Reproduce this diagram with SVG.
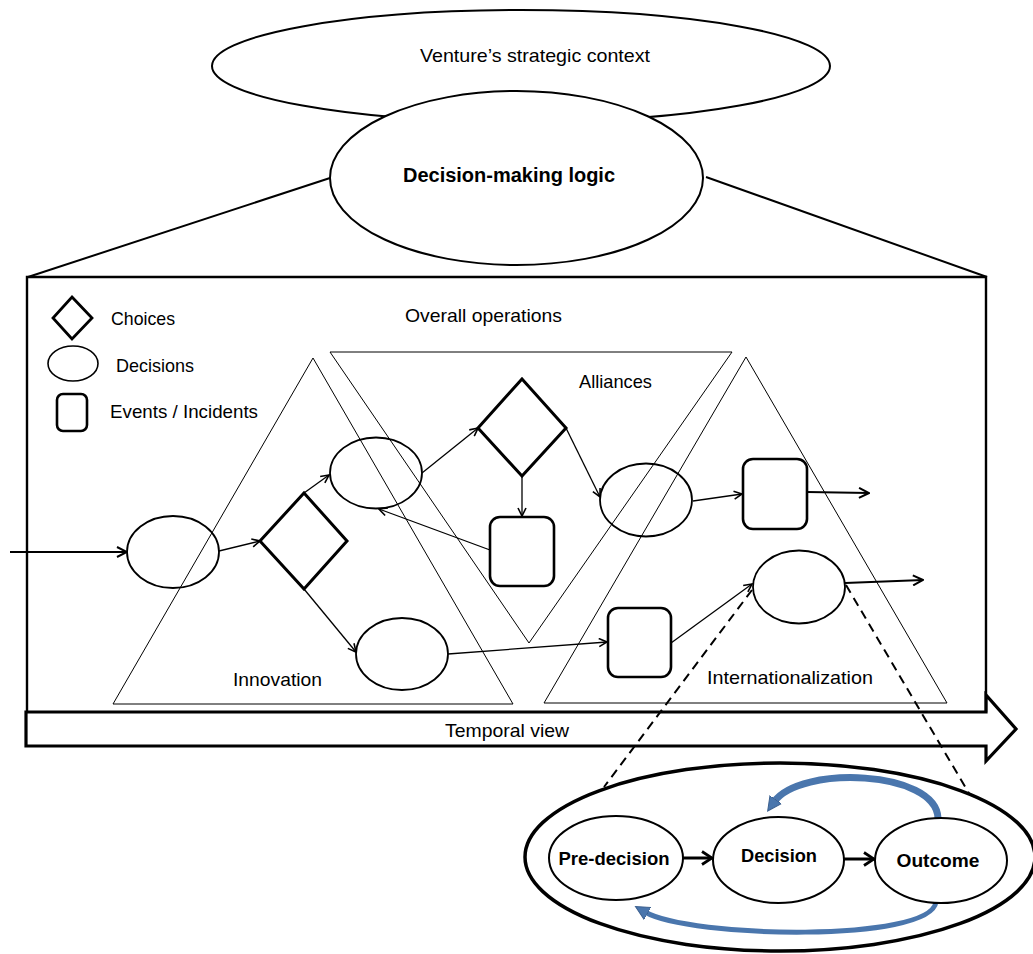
<svg xmlns="http://www.w3.org/2000/svg" width="1033" height="954" viewBox="0 0 1033 954">
  <style>
    text { font-family: "Liberation Sans", Arial, sans-serif; fill: #000; }
    .lbl { font-size: 19px; }
    .bold { font-weight: bold; }
    .tri { fill: none; stroke: #000; stroke-width: 1; }
    .dec { fill: none; stroke: #000; stroke-width: 1.8; }
    .cho { fill: none; stroke: #000; stroke-width: 3; stroke-linejoin: miter; }
    .evt { fill: none; stroke: #000; stroke-width: 2.6; }
    .flow { fill: none; stroke: #000; stroke-width: 1.3; marker-end: url(#arr); }
    .flowOut { fill: none; stroke: #000; stroke-width: 2; marker-end: url(#arrMid); }
    .dash { fill: none; stroke: #000; stroke-width: 2; stroke-dasharray: 9 6; }
    .stage { fill: #fff; stroke: #000; stroke-width: 2; }
    .step { fill: none; stroke: #000; stroke-width: 3; marker-end: url(#arrBig); }
    .loop { fill: none; stroke: #4a76ad; stroke-linecap: butt; }
  </style>
  <defs>
    <marker id="arr" viewBox="0 0 10 10" refX="9" refY="5" markerWidth="10" markerHeight="10" markerUnits="userSpaceOnUse" orient="auto">
      <path d="M1,1 L9,5 L1,9" fill="none" stroke="#000" stroke-width="1.6"/>
    </marker>
    <marker id="arrMid" viewBox="0 0 12 12" refX="11" refY="6" markerWidth="12" markerHeight="12" markerUnits="userSpaceOnUse" orient="auto">
      <path d="M1,1 L11,6 L1,11" fill="none" stroke="#000" stroke-width="2"/>
    </marker>
    <marker id="arrBig" viewBox="0 0 14 16" refX="12" refY="8" markerWidth="14" markerHeight="16" markerUnits="userSpaceOnUse" orient="auto">
      <path d="M2,1.5 L12,8 L2,14.5" fill="none" stroke="#000" stroke-width="2.8"/>
    </marker>
    <marker id="blueHead" viewBox="0 0 16 16" refX="3" refY="8" markerWidth="16" markerHeight="16" markerUnits="userSpaceOnUse" orient="auto">
      <path d="M0,1 L14,8 L0,15 Z" fill="#4a76ad" stroke="#3b5f8e" stroke-width="1"/>
    </marker>
  </defs>

  <!-- strategic context and decision-making logic -->
  <g id="context">
    <ellipse cx="521" cy="66" rx="309" ry="56" fill="#fff" stroke="#000" stroke-width="2"/>
    <text class="lbl" x="420" y="62" font-size="20" textLength="230" lengthAdjust="spacingAndGlyphs">Venture’s strategic context</text>
  </g>
  <g id="logic-fan">
    <line x1="330" y1="178" x2="28" y2="277" stroke="#000" stroke-width="2"/>
    <line x1="706" y1="177" x2="987" y2="277" stroke="#000" stroke-width="2"/>
  </g>
  <g id="logic">
    <ellipse cx="516.5" cy="178" rx="186.5" ry="87" fill="#fff" stroke="#000" stroke-width="2"/>
    <text class="bold" x="509" y="182" font-size="20" text-anchor="middle" textLength="212" lengthAdjust="spacingAndGlyphs">Decision-making logic</text>
  </g>

  <!-- operations frame and time axis -->
  <g id="timeline">
    <path d="M26,712 L986,712 L986,695 L1016,729 L986,761 L986,746 L26,746 Z" fill="#fff" stroke="#000" stroke-width="3.2" stroke-linejoin="miter"/>
    <text class="lbl" x="507" y="737" text-anchor="middle" textLength="124" lengthAdjust="spacingAndGlyphs">Temporal view</text>
  </g>
  <g id="operations">
    <path d="M27,712 L27,277 L986,277 L986,712" fill="none" stroke="#000" stroke-width="2.4"/>
    <text class="lbl" x="405" y="322" textLength="157" lengthAdjust="spacingAndGlyphs">Overall operations</text>
  </g>

  <!-- legend -->
  <g id="legend">
    <polygon points="72,297 92,318 72,339 53,318" fill="none" stroke="#000" stroke-width="2.8"/>
    <text class="lbl" x="111" y="325" font-size="18" textLength="64" lengthAdjust="spacingAndGlyphs">Choices</text>
    <ellipse cx="73" cy="363.5" rx="25" ry="17.5" fill="none" stroke="#000" stroke-width="1.6"/>
    <text class="lbl" x="116" y="372" font-size="18" textLength="78" lengthAdjust="spacingAndGlyphs">Decisions</text>
    <rect x="57" y="394" width="30" height="37" rx="6" fill="none" stroke="#000" stroke-width="2.6"/>
    <text class="lbl" x="110" y="418" font-size="18" textLength="148" lengthAdjust="spacingAndGlyphs">Events / Incidents</text>
  </g>

  <!-- activity domains -->
  <g id="innovation">
    <polygon class="tri" points="313,358 113,704 513,704"/>
    <text class="lbl" x="233" y="686" textLength="89" lengthAdjust="spacingAndGlyphs">Innovation</text>
  </g>
  <g id="alliances">
    <polygon class="tri" points="330,352 732,352 529,643"/>
    <text class="lbl" x="579" y="388" textLength="73" lengthAdjust="spacingAndGlyphs">Alliances</text>
  </g>
  <g id="internationalization">
    <polygon class="tri" points="746,357 544,703 947,703"/>
    <text class="lbl" x="707" y="684" textLength="166" lengthAdjust="spacingAndGlyphs">Internationalization</text>
  </g>

  <!-- process nodes -->
  <g id="decision-1"><ellipse class="dec" cx="173" cy="552" rx="46" ry="36"/></g>
  <g id="choice-1"><polygon class="cho" points="304,493 347,541 304,589 260,541"/></g>
  <g id="decision-2"><ellipse class="dec" cx="376" cy="473" rx="46" ry="35.5"/></g>
  <g id="decision-3"><ellipse class="dec" cx="402" cy="654" rx="46" ry="36"/></g>
  <g id="choice-2"><polygon class="cho" points="522,379 566,428 522,476 478,428"/></g>
  <g id="event-2"><rect class="evt" x="490" y="517" width="64" height="69" rx="10"/></g>
  <g id="decision-4"><ellipse class="dec" cx="646" cy="500" rx="46" ry="36.5"/></g>
  <g id="event-1"><rect class="evt" x="743" y="459" width="64" height="70" rx="10"/></g>
  <g id="event-3"><rect class="evt" x="608" y="608" width="63" height="69" rx="10"/></g>
  <g id="decision-5"><ellipse class="dec" cx="799" cy="587" rx="46" ry="36.5"/></g>

  <!-- connectors -->
  <g id="connectors">
    <path class="flowOut" d="M10,552 L127,552"/>
    <path class="flow" d="M219,551 L260,541"/>
    <path class="flow" d="M304,493 L329,475"/>
    <path class="flow" d="M304,589 L356,652"/>
    <path class="flow" d="M422,473 L478,428"/>
    <path class="flow" d="M522,476 L522,516"/>
    <path class="flow" d="M490,550 L379,509"/>
    <path class="flow" d="M566,428 L600,497"/>
    <path class="flow" d="M693,501 L742,494"/>
    <path class="flowOut" d="M807,492 L869,493"/>
    <path class="flow" d="M448,654 L607,642"/>
    <path class="flow" d="M671,643 L752,584"/>
    <path class="flowOut" d="M845,583 L923,580"/>
    <path class="dash" d="M752,590 L604,787"/>
    <path class="dash" d="M846,585 L970,795"/>
    <path class="step" d="M683,858 L712,858"/>
    <path class="step" d="M844,859 L874,859"/>
    <path class="loop" stroke-width="7" d="M938,818 C936,770 800,765 774,802" marker-end="url(#blueHead)"/>
    <path class="loop" stroke-width="5" d="M936,902 C930,943 690,938 645,912" marker-end="url(#blueHead)"/>
  </g>

  <!-- decision process detail -->
  <g id="process-detail">
    <ellipse cx="780" cy="857" rx="255" ry="94" fill="none" stroke="#000" stroke-width="3.5"/>
  </g>
  <g id="pre-decision">
    <ellipse class="stage" cx="616" cy="858" rx="67" ry="42"/>
    <text class="bold" x="614" y="865" font-size="18" text-anchor="middle" textLength="111" lengthAdjust="spacingAndGlyphs">Pre-decision</text>
  </g>
  <g id="decision">
    <ellipse class="stage" cx="778.5" cy="860" rx="65.5" ry="43"/>
    <text class="bold" x="779" y="862" font-size="18" text-anchor="middle" textLength="76" lengthAdjust="spacingAndGlyphs">Decision</text>
  </g>
  <g id="outcome">
    <ellipse class="stage" cx="941" cy="860.5" rx="66" ry="42.5"/>
    <text class="bold" x="938" y="867" font-size="18" text-anchor="middle" textLength="83" lengthAdjust="spacingAndGlyphs">Outcome</text>
  </g>
</svg>
